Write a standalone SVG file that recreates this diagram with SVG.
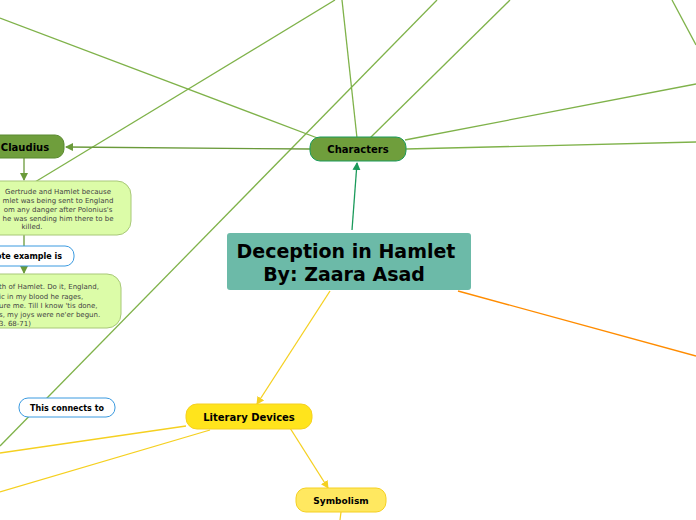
<svg xmlns="http://www.w3.org/2000/svg" width="696" height="520" viewBox="0 0 696 520">
<defs>
<style>
.g{stroke:#7fb24a;stroke-width:1.3;fill:none}
.t{font-family:"DejaVu Sans",sans-serif}
</style>
<marker id="ag" markerWidth="8" markerHeight="8" refX="7" refY="4" orient="auto" markerUnits="userSpaceOnUse"><path d="M0,0L8,4L0,8z" fill="#6a9a3a"/></marker>
<marker id="ab" markerWidth="8" markerHeight="8" refX="7" refY="4" orient="auto" markerUnits="userSpaceOnUse"><path d="M0,0L8,4L0,8z" fill="#1a9a5a"/></marker>
<marker id="ay" markerWidth="8" markerHeight="8" refX="7" refY="4" orient="auto" markerUnits="userSpaceOnUse"><path d="M0,0L8,4L0,8z" fill="#f5d020"/></marker>
</defs>
<rect width="696" height="520" fill="#fff"/>
<g id="connectors">
<path class="g" d="M0,18L328,142" stroke="#6a9a3a"/>
<path class="g" d="M342,0L357,138" stroke="#4aa040"/>
<path class="g" d="M510,0L370,138" stroke="#6a9a3a"/>
<path class="g" d="M335,0L35,182"/>
<path class="g" d="M437,0L0,446"/>
<path class="g" d="M672,0L696,45"/>
<path class="g" d="M405,140L696,84"/>
<path class="g" d="M406,149L696,142"/>
<path d="M310,149L66,147" stroke="#6a9a3a" stroke-width="1.3" marker-end="url(#ag)"/>
<path d="M24,158L24,180" stroke="#6a9a3a" stroke-width="1.3" marker-end="url(#ag)"/>
<path d="M24,235L24,246" stroke="#6a9a3a" stroke-width="1.3"/>
<path d="M24,266L24,273" stroke="#6a9a3a" stroke-width="1.3" marker-end="url(#ag)"/>
<path d="M352,230L357,163" stroke="#1a9a5a" stroke-width="1.3" marker-end="url(#ab)"/>
<path d="M330,291L257,404" stroke="#f5d020" stroke-width="1.3" marker-end="url(#ay)"/>
<path d="M458,291L696,356" stroke="#ff8c00" stroke-width="1.3"/>
<path d="M186,426L0,453" stroke="#f5d020" stroke-width="1.3"/>
<path d="M210,430L0,492" stroke="#f5d020" stroke-width="1.3"/>
<path d="M290,428L328,488" stroke="#f5d020" stroke-width="1.3" marker-end="url(#ay)"/>
<path d="M341,512L340,520" stroke="#f5d020" stroke-width="1.3"/>
</g>
<g id="center"><rect x="227" y="233" width="244" height="57" rx="3" fill="#6cbaa8"/>
<text class="t" x="346" y="258" font-size="19" font-weight="bold" text-anchor="middle">Deception in Hamlet</text>
<text class="t" x="344" y="281" font-size="19" font-weight="bold" text-anchor="middle">By: Zaara Asad</text></g>
<g id="characters"><rect x="310" y="137" width="96" height="24" rx="10" fill="#6f9e3c" stroke="#1a9a5a"/>
<text class="t" x="358" y="153" font-size="10" font-weight="bold" text-anchor="middle">Characters</text></g>
<g id="claudius"><rect x="-20" y="135" width="84" height="23" rx="9" fill="#6f9e3c" stroke="#5a8a30"/>
<text class="t" x="25" y="151" font-size="10" font-weight="bold" text-anchor="middle">Claudius</text></g>
<g id="note1"><rect x="-60" y="181" width="191" height="54" rx="14" fill="#dcfca8" stroke="#a8c878"/>
<g class="t" font-size="7" fill="#444" text-anchor="middle"><text x="58" y="194">Gertrude and Hamlet because</text><text x="58" y="203">mlet was being sent to England</text><text x="58" y="212">om any danger after Polonius's</text><text x="58" y="221">he was sending him there to be</text><text x="32" y="229">killed.</text></g></g>
<g id="quote"><rect x="-40" y="246" width="114" height="20" rx="9" fill="#fff" stroke="#3a9ae0"/>
<text class="t" x="-4" y="259" font-size="8" font-weight="bold">ote example is</text></g>
<g id="note2"><rect x="-60" y="274" width="181" height="54" rx="14" fill="#dcfca8" stroke="#a8c878"/>
<g class="t" font-size="7" fill="#444"><text x="-1" y="289">th of Hamlet. Do it, England,</text><text x="-1" y="299">ic in my blood he rages,</text><text x="-1" y="308">ure me. Till I know 'tis done,</text><text x="-1" y="317">s, my joys were ne'er begun.</text><text x="-1" y="326">3. 68-71)</text></g></g>
<g id="connects"><rect x="19" y="398" width="96" height="19" rx="9" fill="#fff" stroke="#3a9ae0"/>
<text class="t" x="67" y="411" font-size="8" font-weight="bold" text-anchor="middle">This connects to</text></g>
<g id="literary"><rect x="186" y="404" width="126" height="25" rx="11" fill="#ffe41c" stroke="#f5d020"/>
<text class="t" x="249" y="421" font-size="10" font-weight="bold" text-anchor="middle">Literary Devices</text></g>
<g id="symbolism"><rect x="296" y="488" width="90" height="24" rx="10" fill="#ffe860" stroke="#f5d020"/>
<text class="t" x="341" y="504" font-size="9" font-weight="bold" text-anchor="middle">Symbolism</text></g>
</svg>
